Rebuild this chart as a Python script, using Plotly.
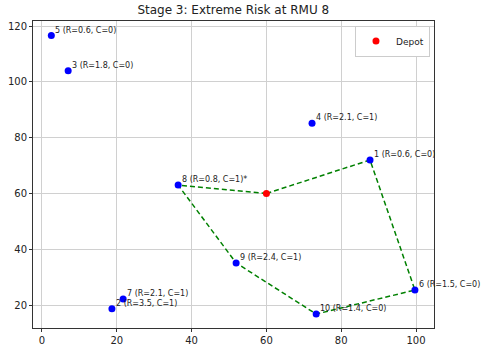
import plotly.graph_objects as go

ids = [1, 2, 3, 4, 5, 6, 7, 8, 9, 10]
xs = [87.7, 18.7, 7.0, 72.2, 2.5, 99.7, 21.7, 36.4, 51.9, 73.3]
ys = [72.0, 18.7, 104.0, 85.2, 116.6, 25.4, 22.2, 63.0, 35.1, 16.8]
risk = [0.6, 3.5, 1.8, 2.1, 0.6, 1.5, 2.1, 0.8, 2.4, 1.4]
cls = [0, 1, 0, 1, 0, 0, 1, 1, 1, 0]
flagged = [8]
depot = (60.0, 60.0)
route = [0, 1, 6, 10, 9, 8, 0]

pos = {0: depot}
for i, x, y in zip(ids, xs, ys):
    pos[i] = (x, y)

fig = go.Figure()
fig.add_trace(go.Scatter(
    x=[pos[r][0] for r in route], y=[pos[r][1] for r in route],
    mode="lines", line=dict(color="green", width=1.5, dash="5px,3px"),
    showlegend=False, hoverinfo="skip"))
fig.add_trace(go.Scatter(
    x=xs, y=ys, mode="markers", marker=dict(color="blue", size=7),
    showlegend=False))
fig.add_trace(go.Scatter(
    x=[depot[0]], y=[depot[1]], mode="markers", marker=dict(color="red", size=7),
    name="Depot"))

for i, x, y, r, c in zip(ids, xs, ys, risk, cls):
    txt = f"{i} (R={r}, C={c})" + ("*" if i in flagged else "")
    fig.add_annotation(x=x, y=y, text=txt, showarrow=False,
                       xanchor="left", yanchor="bottom", xshift=2, yshift=-1,
                       font=dict(size=8, color="#222"))

axis_common = dict(showgrid=True, gridcolor="#d0d0d0", gridwidth=1,
                   showline=True, linecolor="#333", linewidth=1, mirror=True,
                   ticks="outside", ticklen=3, tickcolor="#333", automargin=False,
                   zeroline=False, tickfont=dict(size=10, color="#222"))
fig.update_xaxes(range=[-2.4, 104.8], tickvals=[0, 20, 40, 60, 80, 100], **axis_common)
fig.update_yaxes(range=[11.8, 121.8], tickvals=[20, 40, 60, 80, 100, 120], **axis_common)

fig.update_layout(
    width=481, height=347,
    margin=dict(l=33, r=47, t=21, b=19),
    paper_bgcolor="white", plot_bgcolor="white",
    font=dict(family="DejaVu Sans"),
    title=dict(text="Stage 3: Extreme Risk at RMU 8", x=0.485, xanchor="center",
               y=0.985, yanchor="top", font=dict(size=12, color="#222")),
    legend=dict(x=0.99, y=0.985, xanchor="right", yanchor="top",
                bordercolor="#ccc", borderwidth=1, bgcolor="white",
                itemwidth=30, font=dict(size=9, color="#222")),
)

fig.write_html("out.html")
